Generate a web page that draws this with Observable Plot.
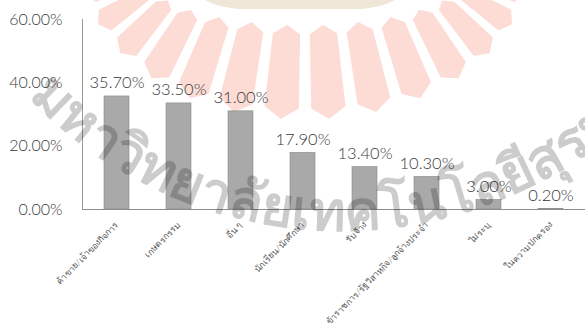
<!DOCTYPE html>
<html>
<head>
<meta charset="utf-8">
<script src="https://cdn.jsdelivr.net/npm/d3@7"></script>
<script src="https://cdn.jsdelivr.net/npm/@observablehq/plot@0.6"></script>
<style>
  html, body { margin: 0; padding: 0; background: #fff; }
  #chart { width: 585px; height: 323px; overflow: hidden; }
</style>
</head>
<body>
<div id="chart"></div>
<script>
const categories = [
  "ค้าขาย/เจ้าของกิจการ",
  "เกษตรกรรม",
  "อื่น ๆ",
  "นักเรียน/นักศึกษา",
  "รับจ้าง",
  "ข้าราชการ/รัฐวิสาหกิจ/ลูกจ้างประจำ",
  "ไม่ระบุ",
  "ในความปกครอง"
];
const values = [35.7, 33.5, 31.0, 17.9, 13.4, 10.3, 3.0, 0.2];
const yTicks = [0, 20, 40, 60];
const watermarkText = "มหาวิทยาลัยเทคโนโลยีสุรนารี";

const data = categories.map((c, i) => ({category: c, value: values[i]}));
const fmt = v => v.toFixed(2) + "%";

const plot = Plot.plot({
  width: 585,
  height: 323,
  marginLeft: 82,
  marginRight: 0,
  marginTop: 19,
  marginBottom: 114,
  style: {fontFamily: "Lato, 'Open Sans', sans-serif", fontWeight: 300, color: "#333", background: "transparent"},
  x: {domain: categories, paddingInner: 0.6, paddingOuter: 0.3, label: null},
  y: {domain: [0, 60], label: null},
  marks: [
    Plot.barY(data, {x: "category", y: "value", fill: "#a9a9a9", stroke: "#8a8a8a", strokeWidth: 0.6}),
    Plot.ruleY([0], {stroke: "#8c8c8c", strokeWidth: 1}),
    Plot.frame({anchor: "left", stroke: "#9a9a9a"}),
    Plot.axisY({ticks: yTicks, tickSize: 0, tickPadding: 20, tickFormat: fmt, fontSize: 16, fill: "#3a3a3a", label: null}),
    Plot.axisX({tickSize: 0, tickPadding: 14, tickRotate: -45, fontSize: 8.8, fill: "#555", label: null}),
    Plot.text(data, {x: "category", y: "value", text: d => fmt(d.value), lineAnchor: "bottom", dy: -8, fontSize: 16.5, fill: "#3a3a3a"})
  ]
});

// Background logo watermark: pink rays of the university emblem
const svg = d3.select(plot);
const bg = svg.insert("g", ":first-child").attr("class", "watermark-logo");
const cx = 305, cy = -30;
const rin = [165, 55], rout = [222, 150];
const pt = (a, t) => {
  const r = a * Math.PI / 180;
  const rx = rin[0] + (rout[0] - rin[0]) * t, ry = rin[1] + (rout[1] - rin[1]) * t;
  return [cx + rx * Math.cos(r), cy + ry * Math.sin(r)];
};
for (let k = -7; k < 7; k++) {
  const a = 90 + 6.25 + k * 12.5;
  const h = 4.6;
  const pts = [pt(a, 0), pt(a + h, 0.1), pt(a + h, 0.88), pt(a, 1), pt(a - h, 0.88), pt(a - h, 0.1)];
  bg.append("polygon").attr("points", pts.map(p => p.join(",")).join(" ")).attr("fill", "#fcdcd5");
}
bg.append("path").attr("d", "M205,0 L395,0 Q380,8 360,9 L240,9 Q220,8 205,0 Z").attr("fill", "#efe6d8");

// Grey arched university name overlaid on the chart
svg.append("defs").append("path").attr("id", "wm-arc").attr("d", "M 20 88 A 432 432 0 0 0 640 110");
svg.append("text")
  .attr("font-family", "'Noto Sans', sans-serif")
  .attr("font-size", 55)
  .attr("font-weight", "bold")
  .attr("text-anchor", "start")
  .attr("fill", "#000")
  .attr("fill-opacity", 0.2)
  .append("textPath")
  .attr("href", "#wm-arc")
  .attr("startOffset", 12)
  .text(watermarkText);

document.getElementById("chart").appendChild(plot);
</script>
</body>
</html>
